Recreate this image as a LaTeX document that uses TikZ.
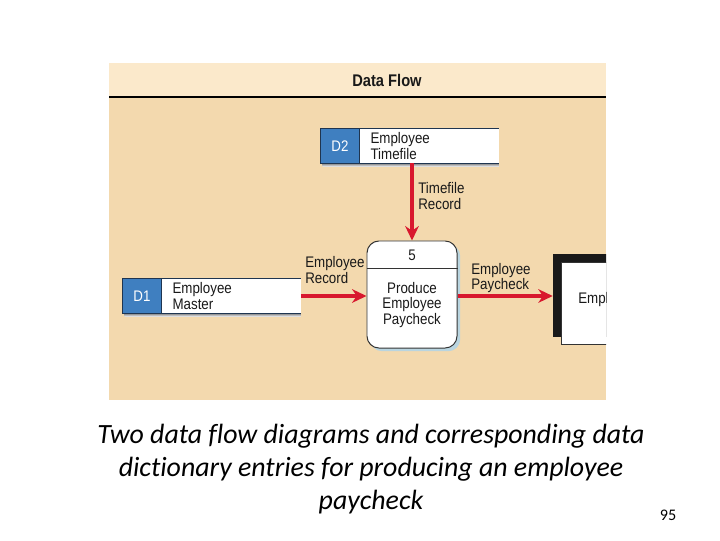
\documentclass[tikz,border=0pt]{standalone}
\usepackage{fontspec}
\setmainfont{Liberation Sans}
\newfontfamily\dfdfont[FakeStretch=0.87]{Liberation Sans}
\newfontfamily\capfont[Ligatures=NoCommon]{Carlito}
\usetikzlibrary{arrows.meta, positioning, shadows}
\definecolor{panel}{HTML}{F3D9AE}
\definecolor{header}{HTML}{FBE9CB}
\definecolor{storeblue}{HTML}{3F7FC0}
\definecolor{edge}{HTML}{1F3550}
\definecolor{flowred}{HTML}{D8182E}
\definecolor{shade}{HTML}{B9D5E0}

\begin{document}
\begin{tikzpicture}[
                x=0.025cm, y=-0.025cm,
                dfd/.style={font=\dfdfont\fontsize{10.9}{11.3}\selectfont, text=black!90},
                storeid/.style={dfd, fill=storeblue, text=white, minimum width=0.95cm, minimum height=0.85cm, inner sep=0pt},
                storename/.style={dfd, fill=white, minimum height=0.85cm, text width=2.925cm, inner xsep=0.275cm, inner ysep=0pt, align=left},
                storeline/.style={draw=edge, line width=0.8pt},
                proc/.style={draw=black!80, fill=white, line width=0.7pt, rounded corners=0.3cm, minimum width=2.25cm, minimum height=2.675cm,
                    drop shadow={fill=shade, opacity=1, shadow xshift=0.08cm, shadow yshift=-0.08cm}},
                flowlabel/.style={dfd, anchor=west, align=left, inner sep=0pt},
                arr/.style={-{Stealth[length=3.6mm, width=3.4mm]}, line width=2.8pt, draw=flowred}
            ]
                \useasboundingbox (0,0) rectangle (720,540);
                \fill[white] (0,0) rectangle (720,540);
                \fill[panel] (109,63) rectangle (606,400);
                \fill[header] (109,63) rectangle (606,96);
                \draw[line width=1.5pt] (109,97) -- (606,97);
                \node[dfd, font=\dfdfont\bfseries\fontsize{12}{14}\selectfont] (title) at (387,80) {Data Flow};

                \node[storeid] (d2id) at (340,146) {D2};
                \node[storename, right=0pt of d2id] (d2) {Employee\\Timefile};
                \fill[shade] ([xshift=0.05cm]d2id.south west) rectangle ([yshift=-0.09cm]d2.south east);
                \draw[storeline] (d2.north east) -- (d2id.north west) -- (d2id.south west) -- (d2.south east);
                \draw[storeline] (d2id.north east) -- (d2id.south east);

                \node[storeid] (d1id) at (142,296) {D1};
                \node[storename, right=0pt of d1id] (d1) {Employee\\Master};
                \fill[shade] ([xshift=0.05cm]d1id.south west) rectangle ([yshift=-0.09cm]d1.south east);
                \draw[storeline] (d1.north east) -- (d1id.north west) -- (d1id.south west) -- (d1.south east);
                \draw[storeline] (d1id.north east) -- (d1id.south east);

                \node[proc] (p5) at (412,294.5) {};
                \draw[black!80, line width=0.7pt] (p5.west |- 0,268) -- (p5.east |- 0,268);
                \node[dfd] (p5num) at (412,255) {5};
                \node[dfd, align=center] (p5name) at (412,305) {Produce\\Employee\\Paycheck};

                \begin{scope}
                    \clip (109,63) rectangle (606,400);
                    \node[fill=black!90, minimum width=3.675cm, minimum height=2.075cm, inner sep=0pt] (ent) at (626.5,295.5) {};
                    \node[draw=black!80, fill=white, line width=0.5pt, minimum width=3.475cm, minimum height=2.05cm, inner sep=0pt] (entbox) at (630.5,303) {};
                    \node[dfd, anchor=west, inner sep=0pt] (entname) at (578,300) {Employee};
                \end{scope}

                \draw[arr] (p5.north |- d2.south) -- (p5.north);
                \draw[arr] (d1.east) -- (p5.west |- d1.east);
                \draw[arr] (p5.east |- d1.east) -- (ent.west |- d1.east);

                \node[flowlabel] (lbltime) at (418,196) {Timefile\\Record};
                \node[flowlabel] (lblrec) at (305,270) {Employee\\Record};
                \node[flowlabel] (lblpay) at (471,278) {Employee\\Paycheck};

                \node[font=\capfont\itshape\fontsize{19.8}{23.4}\selectfont, align=center] (caption) at (371,469) {
                    Two data flow diagrams and corresponding data\\
                    dictionary entries for producing an employee\\
                    paycheck
                };
                \node[font=\capfont\fontsize{11.5}{13}\selectfont] (pagenum) at (668,515) {95};
            \end{tikzpicture}
\end{document}
